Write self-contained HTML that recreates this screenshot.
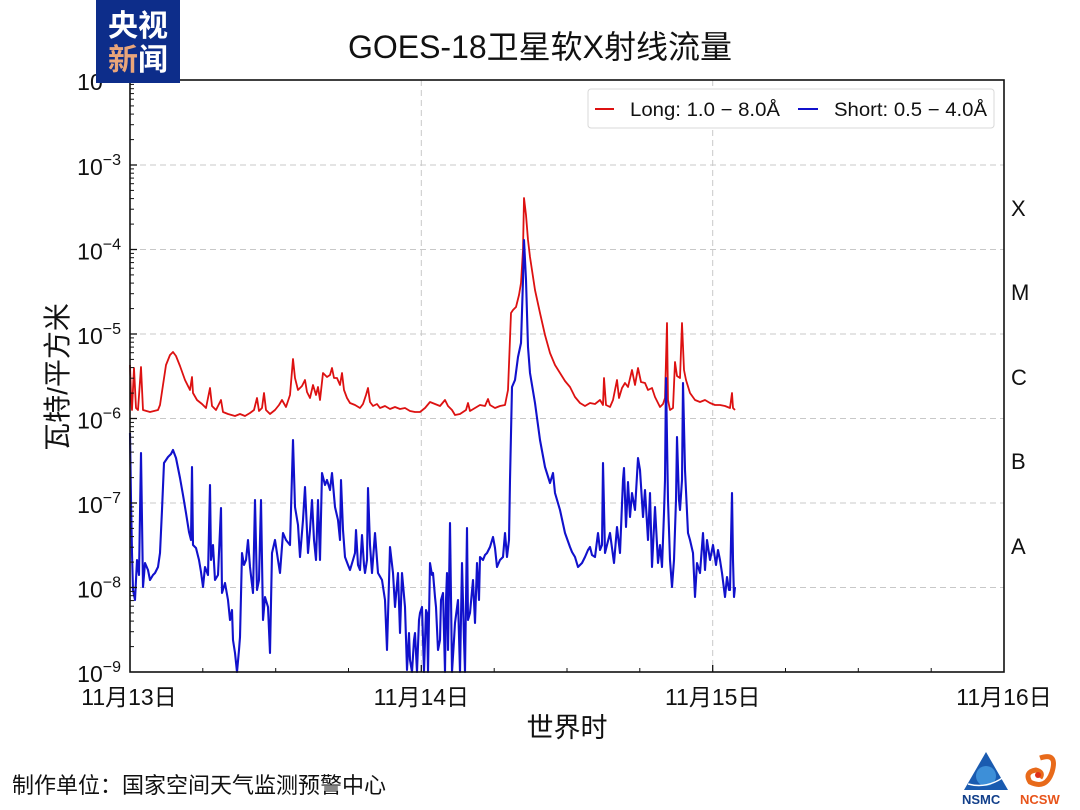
<!DOCTYPE html>
<html><head><meta charset="utf-8"><style>
html,body{margin:0;padding:0;background:#fff;}
svg{display:block;}
text{font-family:"Liberation Sans","Noto Sans CJK SC",sans-serif;fill:#111;}
</style></head><body>
<svg width="1080" height="810" viewBox="0 0 1080 810" xmlns="http://www.w3.org/2000/svg">
<rect width="1080" height="810" fill="#fff"/>
<text x="540" y="58" text-anchor="middle" font-size="32">GOES-18卫星软X射线流量</text>

<!-- grid -->
<g stroke="#c8c8c8" stroke-width="1" stroke-dasharray="6,4">
<line x1="130" y1="165" x2="1004" y2="165"/>
<line x1="130" y1="249.5" x2="1004" y2="249.5"/>
<line x1="130" y1="334" x2="1004" y2="334"/>
<line x1="130" y1="418.5" x2="1004" y2="418.5"/>
<line x1="130" y1="503" x2="1004" y2="503"/>
<line x1="130" y1="587.5" x2="1004" y2="587.5"/>
<line x1="421.3" y1="80" x2="421.3" y2="672"/>
<line x1="712.7" y1="80" x2="712.7" y2="672"/>
</g>

<!-- legend -->
<rect x="588" y="89" width="406" height="39" rx="3" fill="#fff" stroke="#d8d8d8" stroke-width="1"/>
<line x1="595" y1="109" x2="614" y2="109" stroke="#dd1111" stroke-width="2"/>
<text x="630" y="116" font-size="19" textLength="150" lengthAdjust="spacingAndGlyphs">Long: 1.0 − 8.0Å</text>
<line x1="798" y1="109" x2="818" y2="109" stroke="#1111cc" stroke-width="2"/>
<text x="834" y="116" font-size="19" textLength="153" lengthAdjust="spacingAndGlyphs">Short: 0.5 − 4.0Å</text>

<!-- data -->
<polyline fill="none" stroke="#dd1111" stroke-width="1.8" stroke-linejoin="round" points="130,365 131,395 132,410 134,368 136,408 138,410 141,367 143,410 150,412 158,410 160,405 163,385 166,365 170,355 173,352 176,356 180,366 185,380 190,390 192,377 193,393 197,400 202,404 206,408 210,388 212,406 216,410 221,400 223,412 228,414 235,416 240,414 245,416 250,413 254,410 257,398 259,411 262,408 264,393 266,410 270,414 275,410 279,405 282,400 286,407 290,395 293,359 295,378 298,390 302,386 305,380 307,392 310,398 313,385 316,395 318,387 320,400 323,373 327,377 330,375 332,368 334,378 337,378 340,385 342,373 344,390 347,398 350,403 355,405 360,408 363,404 366,395 368,388 370,402 373,406 377,404 380,408 385,406 390,409 395,407 400,409 405,408 410,411 415,412 420,412 425,408 430,402 435,404 440,406 445,400 448,406 452,410 455,415 460,414 463,412 466,410 468,403 470,411 475,408 480,405 485,406 488,399 490,405 495,408 500,406 505,405 508,390 511,313 513,310 516,307 519,295 521,283 523,250 524,198 526,215 528,240 530,257 535,290 540,313 545,335 550,353 555,365 560,373 565,381 570,387 575,397 580,403 585,406 590,403 595,404 600,400 603,405 604,378 606,405 610,407 613,400 617,380 619,398 622,388 625,383 628,387 632,370 635,385 638,368 641,382 645,383 648,390 652,388 655,397 660,407 663,404 665,398 667,323 668,400 670,410 673,408 675,362 677,376 680,378 682,323 684,370 686,380 690,393 695,400 700,402 705,400 710,403 715,405 720,405 725,406 730,408 732,393 733,408 735,410"/>
<polyline fill="none" stroke="#1111cc" stroke-width="2.1" stroke-linejoin="round" points="130,433 131,500 132,553 133,590 135,600 137,560 139,575 141,453 143,587 145,563 148,570 150,580 153,575 155,573 158,567 160,553 162,510 164,463 168,457 171,454 173,450 176,458 180,478 183,495 186,513 189,532 191,540 192,467 193,545 196,548 199,560 201,572 203,587 205,567 208,575 210,485 211,560 213,545 215,580 218,575 221,508 222,593 225,583 228,600 230,620 232,610 233,640 235,653 237,672 239,650 240,637 242,553 244,565 246,560 248,540 250,567 253,593 255,500 257,590 259,580 261,500 263,620 265,597 268,607 270,653 272,553 275,540 278,560 280,573 283,533 286,540 290,545 293,440 295,507 298,525 300,557 303,520 305,487 308,553 310,530 312,500 314,540 316,560 318,500 320,560 322,473 325,485 327,480 330,490 332,473 335,507 338,520 340,540 341,480 343,530 345,557 348,565 350,570 353,560 355,553 356,530 358,565 360,570 362,535 364,565 365,573 367,560 368,488 370,545 372,573 375,533 378,573 382,580 385,600 387,650 390,547 393,573 395,607 398,573 400,633 402,573 405,607 407,670 409,633 410,660 412,672 414,640 415,633 417,672 419,620 420,613 422,607 424,672 426,610 427,613 428,672 430,563 432,575 433,573 435,597 436,607 438,650 440,640 441,600 443,593 445,672 446,600 447,573 448,650 450,523 452,672 454,640 455,623 458,600 460,672 462,563 464,640 465,672 467,528 468,620 470,613 473,580 475,623 477,563 479,600 480,557 483,560 485,555 487,553 490,547 493,537 495,548 497,567 500,560 503,557 505,533 507,557 509,540 510,480 512,387 515,380 518,357 521,343 523,280 524,240 526,280 528,347 530,373 535,403 540,440 545,467 550,483 553,473 555,493 560,510 565,533 570,547 572,552 575,557 578,567 582,563 585,557 588,550 590,547 592,555 595,557 598,533 600,550 602,545 603,463 605,553 610,533 614,563 617,527 620,553 623,480 624,468 626,527 628,482 630,517 632,493 635,510 638,458 640,470 643,517 645,490 648,540 650,493 652,567 655,507 658,563 660,545 662,567 664,513 665,480 666,378 668,500 670,560 672,587 674,560 676,500 677,437 679,500 680,510 682,480 683,383 685,470 688,533 690,540 693,553 695,597 697,563 700,573 703,533 705,570 707,540 710,560 713,545 716,565 718,550 720,560 722,573 725,597 727,577 729,590 730,590 732,493 733,560 734,597 735,587"/>

<!-- cover data overflow at bottom -->
<rect x="125" y="673" width="885" height="12" fill="#fff"/>

<!-- axes frame -->
<rect x="130" y="80" width="874" height="592" fill="none" stroke="#111" stroke-width="1.6"/>

<!-- y ticks -->
<defs>
<g id="mt" stroke="#111" stroke-width="1">
<line x1="130" y1="-25.4" x2="134" y2="-25.4"/>
<line x1="130" y1="-40.3" x2="134" y2="-40.3"/>
<line x1="130" y1="-50.9" x2="134" y2="-50.9"/>
<line x1="130" y1="-59.1" x2="134" y2="-59.1"/>
<line x1="130" y1="-65.8" x2="134" y2="-65.8"/>
<line x1="130" y1="-71.4" x2="134" y2="-71.4"/>
<line x1="130" y1="-76.3" x2="134" y2="-76.3"/>
<line x1="130" y1="-80.6" x2="134" y2="-80.6"/>
</g>
</defs>
<use href="#mt" transform="translate(0,672)"/>
<use href="#mt" transform="translate(0,587.5)"/>
<use href="#mt" transform="translate(0,503)"/>
<use href="#mt" transform="translate(0,418.5)"/>
<use href="#mt" transform="translate(0,334)"/>
<use href="#mt" transform="translate(0,249.5)"/>
<use href="#mt" transform="translate(0,165)"/>
<g stroke="#111" stroke-width="1.3">
<line x1="130" y1="165" x2="137" y2="165"/>
<line x1="130" y1="249.5" x2="137" y2="249.5"/>
<line x1="130" y1="334" x2="137" y2="334"/>
<line x1="130" y1="418.5" x2="137" y2="418.5"/>
<line x1="130" y1="503" x2="137" y2="503"/>
<line x1="130" y1="587.5" x2="137" y2="587.5"/>
<line x1="421.3" y1="672" x2="421.3" y2="665"/>
<line x1="712.7" y1="672" x2="712.7" y2="665"/>
</g>
<g stroke="#111" stroke-width="1">
<line x1="202.8" y1="672" x2="202.8" y2="668"/>
<line x1="275.7" y1="672" x2="275.7" y2="668"/>
<line x1="348.5" y1="672" x2="348.5" y2="668"/>
<line x1="494.2" y1="672" x2="494.2" y2="668"/>
<line x1="567" y1="672" x2="567" y2="668"/>
<line x1="639.8" y1="672" x2="639.8" y2="668"/>
<line x1="785.5" y1="672" x2="785.5" y2="668"/>
<line x1="858.3" y1="672" x2="858.3" y2="668"/>
<line x1="931.2" y1="672" x2="931.2" y2="668"/>
</g>

<!-- y tick labels -->
<g font-size="23">
<text x="121" y="90" text-anchor="end">10<tspan font-size="16" dy="-10">−2</tspan></text>
<text x="121" y="175" text-anchor="end">10<tspan font-size="16" dy="-10">−3</tspan></text>
<text x="121" y="259.5" text-anchor="end">10<tspan font-size="16" dy="-10">−4</tspan></text>
<text x="121" y="344" text-anchor="end">10<tspan font-size="16" dy="-10">−5</tspan></text>
<text x="121" y="428.5" text-anchor="end">10<tspan font-size="16" dy="-10">−6</tspan></text>
<text x="121" y="513" text-anchor="end">10<tspan font-size="16" dy="-10">−7</tspan></text>
<text x="121" y="597.5" text-anchor="end">10<tspan font-size="16" dy="-10">−8</tspan></text>
<text x="121" y="682" text-anchor="end">10<tspan font-size="16" dy="-10">−9</tspan></text>
</g>

<!-- x tick labels -->
<g font-size="23" text-anchor="middle">
<text x="129" y="705">11月13日</text>
<text x="421.3" y="705">11月14日</text>
<text x="712.7" y="705">11月15日</text>
<text x="1004" y="705">11月16日</text>
</g>

<!-- right class labels -->
<g font-size="22">
<text x="1011" y="216">X</text>
<text x="1011" y="300">M</text>
<text x="1011" y="385">C</text>
<text x="1011" y="469">B</text>
<text x="1011" y="554">A</text>
</g>

<!-- axis labels -->
<text x="567" y="737" text-anchor="middle" font-size="27">世界时</text>
<text transform="translate(67,377) rotate(-90)" text-anchor="middle" font-size="28">瓦特/平方米</text>

<!-- footer -->
<text x="12" y="793" font-size="22">制作单位：国家空间天气监测预警中心</text>

<!-- CCTV news logo -->
<rect x="96" y="0" width="84" height="83" fill="#0d2d8a"/>
<text x="108" y="36" font-size="30" font-weight="bold" style="fill:#fff">央视</text>
<text x="108" y="70" font-size="30" font-weight="bold" style="fill:#e9a57a">新</text>
<text x="138" y="70" font-size="30" font-weight="bold" style="fill:#fff">闻</text>

<!-- NSMC logo -->
<polygon points="986,752 1008,790 964,790" fill="#1a5bb0"/>
<circle cx="986" cy="776" r="10" fill="#3d8fd8"/>
<path d="M968 784 Q990 790 1010 772" stroke="#fff" stroke-width="1.5" fill="none"/>
<text x="962" y="804" font-size="13" font-weight="bold" style="fill:#123f8a">NSMC</text>
<!-- NCSW logo -->
<path d="M1040 758 Q1058 752 1052 772 Q1046 790 1030 782 Q1024 772 1036 770 Q1044 772 1040 778" stroke="#e86a1a" stroke-width="5" fill="none"/>
<circle cx="1038" cy="775" r="3" fill="#e0301a"/>
<text x="1020" y="804" font-size="13" font-weight="bold" style="fill:#e8541a">NCSW</text>
</svg>
</body></html>
